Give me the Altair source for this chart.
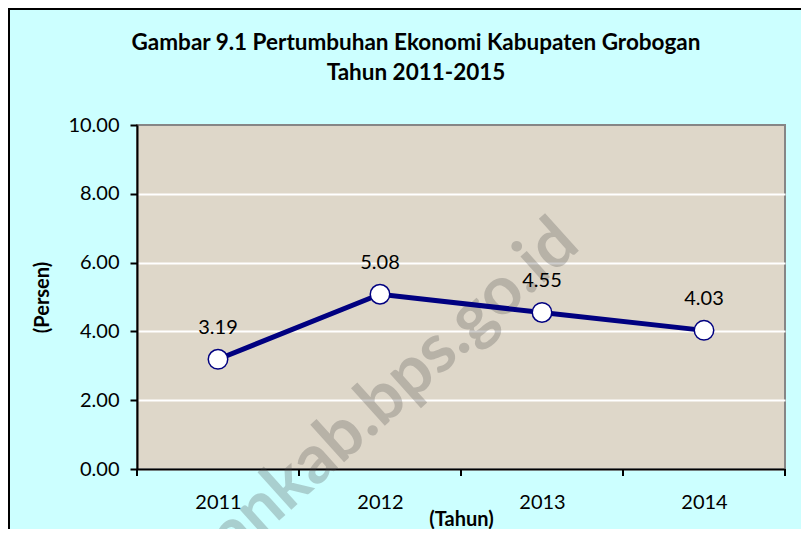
import altair as alt
import pandas as pd

# ---- data ----
years = [2011, 2012, 2013, 2014]
growth = [3.19, 5.08, 4.55, 4.03]
y_ticks = [0, 2, 4, 6, 8, 10]
title_lines = ["Gambar 9.1 Pertumbuhan Ekonomi Kabupaten Grobogan", "Tahun 2011-2015"]
x_title = "(Tahun)"
y_title = "(Persen)"
watermark = ["grobogankab.bps.go.id"]

df = pd.DataFrame({"year": years, "value": growth})
bounds = pd.DataFrame({"b": [y - 0.5 for y in years] + [years[-1] + 0.5]})
one = pd.DataFrame({"t": watermark})
titles = pd.DataFrame({"t": ["\n".join(title_lines)]})

W, H = 648, 344
FONT = "Lato"
NAVY = "#000080"

xscale = alt.Scale(domain=[years[0] - 0.5, years[-1] + 0.5], nice=False, zero=False)
yscale = alt.Scale(domain=[0, 10], nice=False)

xaxis = alt.Axis(
    values=years, format="d", tickSize=0, grid=False,
    domainColor="black", domainWidth=2,
    labelFont=FONT, labelFontSize=20, labelColor="black", labelPadding=23,
    title=x_title, titleFont=FONT, titleFontSize=20, titleFontWeight="bold",
    titleColor="black", titleY=50, titleBaseline="middle",
)
yaxis = alt.Axis(
    values=y_ticks, format=".2f", tickSize=7, tickColor="black", tickWidth=2,
    domainColor="black", domainWidth=2,
    grid=True, gridColor="white", gridWidth=2,
    gridOpacity={"condition": {"test": "datum.value == 10", "value": 0}, "value": 1},
    labelFont=FONT, labelFontSize=20, labelColor="black", labelPadding=11,
    title=y_title, titleFont=FONT, titleFontSize=20, titleFontWeight="bold",
    titleColor="black", titleX=-95, titleY=H / 2, titleBaseline="middle", titleAngle=270,
)

base = alt.Chart(df)

border = alt.Chart(one).mark_rect(fill=None, stroke="black", strokeWidth=2, clip=False).encode(
    x=alt.value(-128), x2=alt.value(W + 60), y=alt.value(-116), y2=alt.value(H + 100)
)

title_mark = alt.Chart(titles).mark_text(
    font=FONT, fontSize=22.5, fontWeight="bold", color="black",
    align="center", baseline="alphabetic", lineBreak="\n", lineHeight=30, clip=False,
).encode(x=alt.value(279), y=alt.value(-75), text="t:N")

wm = alt.Chart(one).mark_text(
    font=FONT, fontSize=68, fontWeight="bold", color="#4a4a4a", opacity=0.26,
    angle=318, align="right", baseline="alphabetic", clip=False,
).encode(x=alt.value(445), y=alt.value(123), text="t:N")

line = base.mark_line(color=NAVY, strokeWidth=5).encode(
    x=alt.X("year:Q", scale=xscale, axis=xaxis),
    y=alt.Y("value:Q", scale=yscale, axis=yaxis),
)
pts = base.mark_point(shape="circle", filled=True, fill="white", stroke=NAVY,
                      strokeWidth=1.5, size=380, opacity=1).encode(
    x=alt.X("year:Q", scale=xscale), y=alt.Y("value:Q", scale=yscale)
)
labels = base.mark_text(font=FONT, fontSize=20, color="black", dy=-31, baseline="middle").encode(
    x=alt.X("year:Q", scale=xscale), y=alt.Y("value:Q", scale=yscale),
    text=alt.Text("value:Q", format=".2f"),
)
xticks = alt.Chart(bounds).mark_rule(color="black", strokeWidth=2, clip=False).encode(
    x=alt.X("b:Q", scale=xscale), y=alt.value(H), y2=alt.value(H + 7)
)

chart = alt.layer(border, wm, line, pts, labels, xticks, title_mark).properties(
    width=W, height=H,
    autosize=alt.AutoSizeParams(type="none"),
    padding={"left": 129, "top": 117, "right": 16, "bottom": 60},
    background="#CCFFFF",
).configure_view(fill="#DED7C9", stroke="#868686", strokeWidth=2)

chart.save("out.html", embed_options={"renderer": "svg", "actions": False})
